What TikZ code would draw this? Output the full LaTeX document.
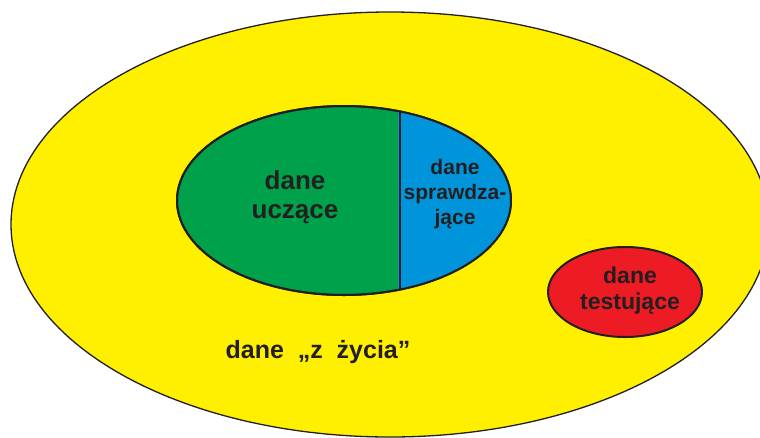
\documentclass[tikz,border=0pt]{standalone}
\usepackage{fontspec}
\setmainfont{Liberation Sans}
\usetikzlibrary{shapes.geometric}
\definecolor{zolty}{RGB}{255,240,0}
\definecolor{zielony}{RGB}{0,161,75}
\definecolor{niebieski}{RGB}{0,149,218}
\definecolor{czerwony}{RGB}{237,28,36}
\definecolor{ciemny}{RGB}{35,31,32}
\tikzset{
    %Define style for the sets
    zbior/.style={
           ellipse,
           draw=ciemny, line width=2pt,
           inner sep=0pt},
    % Define style for outlines
    obrys/.style={draw=ciemny, line width=2pt},
    % Define style for labels
    napis/.style={
           text=ciemny,
           align=center,
           font=\bfseries\fontsize{26}{29}\selectfont}
}

\begin{document}
\begin{tikzpicture}[x=1pt,y=-1pt]
  \useasboundingbox (0,0) rectangle (760,437);
  \clip (0,0) rectangle (760,437);
  \node[zbior, fill=zolty, line width=1.3pt, minimum width=758, minimum height=425] (zycie) at (390,224.5) {};
  \node[zbior, fill=zielony, minimum width=334, minimum height=189] (uczace) at (344,200.5) {};
  \begin{scope}
    \clip (398,100) rectangle (520,300);
    \fill[niebieski] (uczace.center) ellipse [x radius=167pt, y radius=94.5pt];
  \end{scope}
  \draw[obrys] (uczace.center) ellipse [x radius=167pt, y radius=94.5pt];
  \draw[obrys] (uczace.58.9) -- (uczace.-58.9);
  \node[zbior, fill=czerwony, minimum width=154, minimum height=90] (testujace) at (625,292) {};
  \node[napis] (tu) at (295,197) {dane\\uczące};
  \node[napis, font=\bfseries\fontsize{21}{25}\selectfont] (ts) at (455,194) {dane\\sprawdza-\\jące};
  \node[napis, font=\bfseries\fontsize{23}{26}\selectfont] (tt) at (630,291) {dane\\testujące};
  \node[napis, font=\bfseries\fontsize{25}{29}\selectfont] (tz) at (318,352) {dane\ \ „z\ \ życia”};
\end{tikzpicture}
\end{document}
